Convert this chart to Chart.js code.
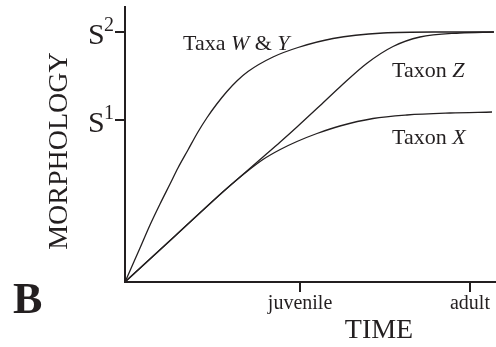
<!DOCTYPE html>
<html>
<head>
<meta charset="utf-8">
<script src="https://cdn.jsdelivr.net/npm/chart.js@4"></script>
<style>
  html, body { margin: 0; padding: 0; background: #ffffff; }
  #wrap { width: 496px; height: 347px; }
</style>
</head>
<body>
<div id="wrap"><canvas id="c" width="496" height="347"></canvas></div>
<script>
// ---- data ----
// TIME (x) values, juvenile = ~1, adult = 2 ; MORPHOLOGY: S1 ~ 6.48, S2 = 10
const xWY = [0, 0.041, 0.087, 0.145, 0.203, 0.261, 0.307, 0.365, 0.423, 0.475, 0.53, 0.591, 0.65, 0.713, 0.858, 1.003, 1.206, 1.496, 1.786, 2.139];
const yWY = [0, 0.64, 1.36, 2.28, 3.12, 3.92, 4.56, 5.28, 6.0, 6.57, 7.1, 7.62, 8.05, 8.42, 9.0, 9.38, 9.74, 9.96, 10.0, 10.0];

const xZ = [0, 0.29, 0.58, 0.70, 0.80, 0.90, 0.997, 1.13, 1.246, 1.403, 1.554, 1.71, 1.942, 2.139];
const yZ = [0, 1.84, 3.68, 4.4, 5.0, 5.6, 6.2, 7.05, 7.8, 8.75, 9.42, 9.8, 9.96, 10.0];

const xX = [0, 0.29, 0.58, 0.70, 0.80, 0.90, 0.997, 1.113, 1.246, 1.438, 1.635, 1.884, 2.128];
const yX = [0, 1.84, 3.68, 4.38, 4.9, 5.3, 5.62, 5.94, 6.24, 6.54, 6.68, 6.76, 6.80];

const xTickValues = [1.015, 2];
const xTickLabels = ['juvenile', 'adult'];
const yTickValues = [6.48, 10];
const yTickLabels = ['1', '2'];   // S superscripts

const INK = '#231f20';
const SERIF = "'Liberation Serif', 'DejaVu Serif', serif";

function pts(xs, ys) { return xs.map((x, i) => ({ x: x, y: ys[i] })); }

const lineStyle = {
  borderColor: INK,
  borderWidth: 1.3,
  pointRadius: 0,
  fill: false,
  cubicInterpolationMode: 'monotone'
};

const textPlugin = {
  id: 'texts',
  afterDraw(chart) {
    const ctx = chart.ctx;
    const ys = chart.scales.y;
    ctx.save();
    ctx.fillStyle = INK;
    ctx.textBaseline = 'alphabetic';

    // y-axis title
    ctx.save();
    ctx.font = '28px ' + SERIF;
    ctx.textAlign = 'center';
    ctx.translate(67, 151);
    ctx.rotate(-Math.PI / 2);
    ctx.fillText('MORPHOLOGY', 0, 0);
    ctx.restore();

    // x-axis title
    ctx.font = '28px ' + SERIF;
    ctx.textAlign = 'center';
    ctx.fillText('TIME', 379, 338);

    // panel letter
    ctx.font = 'bold 44px ' + SERIF;
    ctx.textAlign = 'left';
    ctx.fillText('B', 13, 313);

    // S labels with superscripts
    yTickValues.forEach((v, i) => {
      const py = ys.getPixelForValue(v);
      ctx.font = '30px ' + SERIF;
      ctx.textAlign = 'left';
      ctx.fillText('S', 88, py + 12);
      ctx.font = '20px ' + SERIF;
      ctx.fillText(yTickLabels[i], 104, py - 1);
    });

    // curve labels with italic parts
    function rich(parts, x, y) {
      let cx = x;
      parts.forEach(p => {
        ctx.font = (p[1] ? 'italic ' : '') + '22px ' + SERIF;
        ctx.fillText(p[0], cx, y);
        cx += ctx.measureText(p[0]).width;
      });
    }
    ctx.textAlign = 'left';
    rich([['Taxa ', false], ['W', true], [' & ', false], ['Y', true]], 183, 50);
    rich([['Taxon ', false], ['Z', true]], 392, 77);
    rich([['Taxon ', false], ['X', true]], 392, 144);

    ctx.restore();
  }
};

new Chart(document.getElementById('c'), {
  type: 'line',
  data: {
    datasets: [
      Object.assign({ label: 'Taxa W & Y', data: pts(xWY, yWY) }, lineStyle),
      Object.assign({ label: 'Taxon Z', data: pts(xZ, yZ) }, lineStyle),
      Object.assign({ label: 'Taxon X', data: pts(xX, yX) }, lineStyle)
    ]
  },
  options: {
    responsive: false,
    animation: false,
    devicePixelRatio: 1,
    layout: { padding: { top: 7, right: 0, left: 0, bottom: 0 } },
    plugins: { legend: { display: false }, tooltip: { enabled: false } },
    scales: {
      x: {
        type: 'linear',
        min: 0,
        max: 2.151,
        afterBuildTicks(scale) { scale.ticks = xTickValues.map(v => ({ value: v })); },
        afterFit(scale) { scale.height = 65; },
        ticks: {
          autoSkip: false,
          maxRotation: 0,
          padding: 0,
          color: INK,
          font: { family: SERIF, size: 20 },
          callback: (v, i) => xTickLabels[i]
        },
        grid: { drawOnChartArea: false, drawTicks: true, tickLength: 10, lineWidth: 2, color: INK },
        border: { display: true, width: 2, color: INK }
      },
      y: {
        type: 'linear',
        min: 0,
        max: 11,
        afterBuildTicks(scale) { scale.ticks = yTickValues.map(v => ({ value: v })); },
        afterFit(scale) { scale.width = 125; },
        ticks: { display: false },
        grid: { drawOnChartArea: false, drawTicks: true, tickLength: 10, lineWidth: 2, color: INK },
        border: { display: true, width: 2, color: INK }
      }
    }
  },
  plugins: [textPlugin]
});
</script>
</body>
</html>
